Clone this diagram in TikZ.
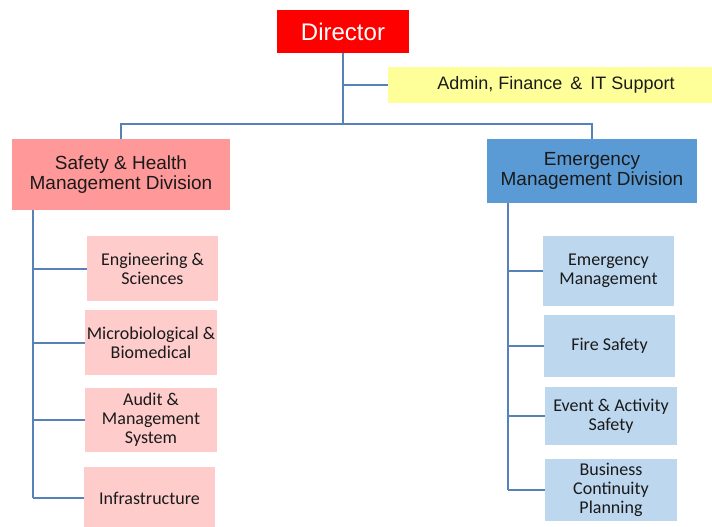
\documentclass[tikz,border=0pt]{standalone}
\usepackage{fontspec}
\setmainfont{Liberation Sans}
\newfontfamily\calfont{Carlito}
\definecolor{dirred}{HTML}{FF0000}
\definecolor{adminyel}{HTML}{FFFF99}
\definecolor{divpink}{HTML}{FF9999}
\definecolor{divblue}{HTML}{5B9BD5}
\definecolor{subpink}{HTML}{FFCCCC}
\definecolor{subblue}{HTML}{BDD7EE}
\definecolor{linkblue}{HTML}{5682B8}
\definecolor{txt}{HTML}{1A1A1A}
\begin{document}
\begin{tikzpicture}[x=1pt,y=-1pt,
  box/.style={draw=none,inner sep=0pt,align=center,text=txt},
  dirbox/.style={box,fill=dirred,text=white,minimum width=132pt,minimum height=43pt,font=\fontsize{24}{26}\selectfont},
  adminbox/.style={box,fill=adminyel,minimum width=324pt,minimum height=36pt,font=\fontsize{18}{20}\selectfont},
  divbox/.style={box,minimum height=68pt,font=\fontsize{19}{20.5}\selectfont},
  subbox/.style={box,minimum width=132pt,font=\calfont\fontsize{18}{19}\selectfont},
  pinksub/.style={subbox,fill=subpink},
  bluesub/.style={subbox,fill=subblue},
  link/.style={draw=linkblue,line width=2pt}
]
\useasboundingbox (0,0) rectangle (712,527);
\node[dirbox] (dir) at (343,31.5) {Director};
\node[adminbox] (admin) at (550,85) {\hspace*{12pt}Admin, Finance \,\&\, IT Support};
\node[divbox,fill=divpink,minimum width=218pt,minimum height=71pt] (safety) at (121,174.5) {Safety \& Health\\Management Division};
\node[divbox,fill=divblue,minimum width=210pt,minimum height=64pt] (emd) at (592,171) {Emergency\\Management Division};
\node[pinksub,minimum width=131pt,minimum height=65pt] (eng) at (152.5,268.5) {Engineering \&\\Sciences};
\node[pinksub,minimum height=65pt] (micro) at (151,342.5) {Microbiological \&\\Biomedical};
\node[pinksub,minimum height=64pt] (audit) at (151,420) {Audit \&\\Management\\System};
\node[pinksub,minimum width=131pt,minimum height=62pt] (infra) at (149.5,498) {Infrastructure};
\node[bluesub,minimum width=131pt,minimum height=70pt] (em) at (608.5,271) {Emergency\\Management};
\node[bluesub,minimum width=131pt,minimum height=62pt] (fire) at (609.5,346) {Fire Safety};
\node[bluesub,minimum height=58pt] (event) at (611,416) {Event \& Activity\\Safety};
\node[bluesub,minimum height=62pt] (bcp) at (611,490) {Business\\Continuity\\Planning};
\coordinate (j) at (343,124);
\coordinate (lb) at (33,210);
\coordinate (rb) at (508,203);
\draw[link] (dir.south) -- (j);
\draw[link] (admin.west) -- (admin.west -| dir.south);
\draw[link] (safety.north) |- (j) -| (emd.north);
\draw[link] (lb) -- (infra.west -| lb);
\foreach \n in {eng,micro,audit,infra} \draw[link] (\n.west) -- (\n.west -| lb);
\draw[link] (rb) -- (bcp.west -| rb);
\foreach \n in {em,fire,event,bcp} \draw[link] (\n.west) -- (\n.west -| rb);
\end{tikzpicture}
\end{document}
